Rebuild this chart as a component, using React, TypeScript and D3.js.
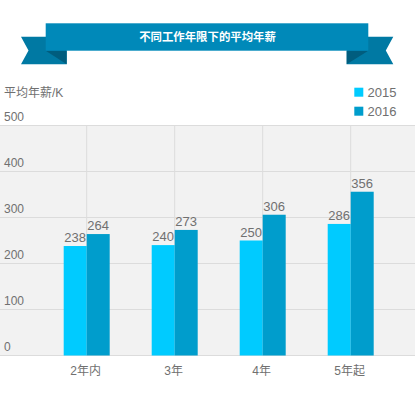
import React from "react";
import * as d3 from "d3";

const categories = ["2年内", "3年", "4年", "5年起"];
const series2015 = [238, 240, 250, 286];
const series2016 = [264, 273, 306, 356];
const seriesNames = ["2015", "2016"];
const yTicks = [0, 100, 200, 300, 400, 500];
const title = "不同工作年限下的平均年薪";
const yTitle = "平均年薪/K";

const W = 415;
const H = 408;
const FONT = "'Liberation Sans', 'Noto Sans CJK SC', sans-serif";
const colors = ["#00CBFF", "#009DCC"];
const TXT = "#707070";

export default function App() {
  const y = d3.scaleLinear().domain([0, 500]).range([355.5, 125.5]);
  const x = d3.scaleBand<string>().domain(categories).range([42.7, 394.7]).paddingInner(0).paddingOuter(0);
  const step = x.step();
  const barW = 23;
  const data = [series2015, series2016];
  const centers = categories.map((c) => (x(c) as number) + step / 2);

  return (
    <svg width={W} height={H} style={{ position: "absolute", left: 0, top: 0, fontFamily: FONT }}>
      <rect x={0} y={0} width={W} height={H} fill="#ffffff" />
      {/* ribbon */}
      <polygon points="21,36.7 66.7,36.7 66.7,64.3 21,64.3 28.5,50.5" fill="#0079A3" />
      <polygon points="45.7,50.7 66.7,50.7 66.7,64.3" fill="#005D7E" />
      <polygon points="393.3,36.7 346.7,36.7 346.7,64.3 393.3,64.3 385.8,50.5" fill="#0079A3" />
      <polygon points="368.3,50.7 346.7,50.7 346.7,64.3" fill="#005D7E" />
      <rect x={45.7} y={23.3} width={322.6} height={27.4} fill="#0089B9" />
      <text x={207.5} y={41.3} textAnchor="middle" fill="#ffffff" fontSize={11.4} fontWeight="bold" fontFamily="'Noto Sans CJK SC', sans-serif">{title}</text>

      {/* y title & legend */}
      <text x={4} y={97} fill={TXT} fontSize={12}>{yTitle}</text>
      {seriesNames.map((n, i) => (
        <g key={n}>
          <rect x={354.3} y={87.7 + i * 19} width={9} height={9} fill={colors[i]} />
          <text x={367.5} y={97.2 + i * 19} fill={TXT} fontSize={13}>{n}</text>
        </g>
      ))}

      {/* plot bg */}
      <rect x={0} y={y(500)} width={W} height={y(0) - y(500)} fill="#F2F2F2" />
      {yTicks.map((t) => (
        <g key={t}>
          <line x1={0} x2={W} y1={y(t)} y2={y(t)} stroke="#DCDCDC" strokeWidth={1} />
          <text x={4} y={y(t) - 5} fill={TXT} fontSize={12}>{t}</text>
        </g>
      ))}
      {centers.map((c, i) => (
        <line key={i} x1={c} x2={c} y1={y(500)} y2={y(0)} stroke="#DCDCDC" strokeWidth={1} />
      ))}

      {data.map((vals, si) =>
        vals.map((v, i) => {
          const bx = centers[i] - barW + si * barW;
          return (
            <g key={`${si}-${i}`}>
              <rect x={bx} y={y(v)} width={barW} height={y(0) - y(v)} fill={colors[si]} />
              <text x={bx + barW / 2} y={y(v) - 4} textAnchor="middle" fill={TXT} fontSize={13}>{v}</text>
            </g>
          );
        })
      )}

      {categories.map((c, i) => (
        <text key={c} x={centers[i] - 1} y={374.5} textAnchor="middle" fill={TXT} fontSize={12}>{c}</text>
      ))}
    </svg>
  );
}
